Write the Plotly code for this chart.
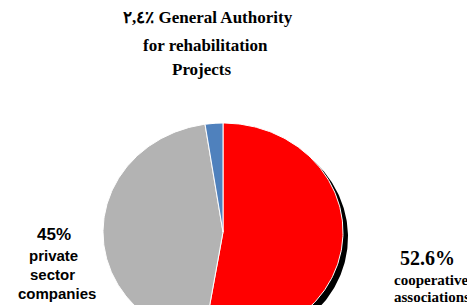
import numpy as np
import plotly.graph_objects as go

# ---- data ----
labels = ["cooperative associations", "private sector companies",
          "General Authority for rehabilitation Projects"]
values = [52.6, 45.0, 2.4]
colors = ["#FF0000", "#B3B3B3", "#4F81BD"]
title_lines = ["٢,٤٪ General Authority", "for rehabilitation", "Projects"]
left_lines = ["45%", "private", "sector", "companies"]
right_lines = ["52.6%", "cooperative", "associations"]

OFF = 8                 # page body margin
W, H = 475 - OFF, 305 - OFF
CX, CY = 223 - OFF, 232 - OFF   # pie centre in pixels (from top-left)
RX, RY = 120, 109               # pie radii in pixels

fig = go.Figure()

def wedge(a0, a1, dx=0.0, dy=0.0, n=200):
    th = np.linspace(a0, a1, n)
    xs = np.concatenate([[0], np.sin(th), [0]]) + dx
    ys = np.concatenate([[0], np.cos(th), [0]]) + dy
    return xs, ys

# shadow
sx, sy = wedge(0, 2 * np.pi, 5 / RX, -5 / RY, 400)
fig.add_trace(go.Scatter(x=sx, y=sy, fill="toself", fillcolor="black",
                         line=dict(color="black", width=0), mode="lines",
                         hoverinfo="skip", showlegend=False))

total = sum(values)
start = 0.0
for lab, v, c in zip(labels, values, colors):
    a0 = start / total * 2 * np.pi
    a1 = (start + v) / total * 2 * np.pi
    xs, ys = wedge(a0, a1)
    fig.add_trace(go.Scatter(x=xs, y=ys, fill="toself", fillcolor=c,
                             line=dict(color="white", width=1), mode="lines",
                             name=lab, hoverinfo="name", showlegend=False))
    start += v

def px2paper(px, py):
    return (px - OFF) / W, 1 - (py - OFF) / H

ann = []
serif = "Liberation Serif, Times New Roman, serif"
sans = "Liberation Sans, Arial, sans-serif"
for txt, (px, py) in zip(title_lines, [(208, 18), (205, 45), (202, 70)]):
    x, y = px2paper(px, py)
    ann.append(dict(text="<b>%s</b>" % txt, x=x, y=y, xref="paper", yref="paper",
                    showarrow=False, xanchor="center", yanchor="middle",
                    font=dict(family=serif, size=17, color="black")))
for txt, (px, py), s in zip(left_lines, [(54, 234), (53, 255), (52, 274), (57, 293)],
                            [17, 15, 15, 15]):
    x, y = px2paper(px, py)
    ann.append(dict(text="<b>%s</b>" % txt, x=x, y=y, xref="paper", yref="paper",
                    showarrow=False, xanchor="center", yanchor="middle",
                    font=dict(family=sans, size=s, color="black")))
for txt, (px, py), s in zip(right_lines, [(427, 258), (431, 280), (432, 297)],
                            [20, 15, 15]):
    x, y = px2paper(px, py)
    ann.append(dict(text="<b>%s</b>" % txt, x=x, y=y, xref="paper", yref="paper",
                    showarrow=False, xanchor="center", yanchor="middle",
                    font=dict(family=serif, size=s, color="black")))

fig.update_layout(
    width=W, height=H, margin=dict(l=0, r=0, t=0, b=0),
    paper_bgcolor="white", plot_bgcolor="white",
    xaxis=dict(range=[-CX / RX, (W - CX) / RX], visible=False, fixedrange=True),
    yaxis=dict(range=[(CY - H) / RY, CY / RY], visible=False, fixedrange=True),
    annotations=ann,
)
fig.write_html("out.html")
